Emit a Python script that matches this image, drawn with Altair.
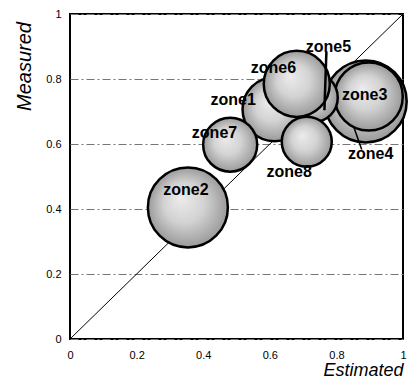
import altair as alt
import pandas as pd

# Bubble data (draw order: back to front)
zones = ["zone4", "zone3", "zone5", "zone1", "zone6", "zone7", "zone8", "zone2"]
estimated = [0.888, 0.897, 0.729, 0.614, 0.681, 0.481, 0.711, 0.354]
measured = [0.731, 0.746, 0.743, 0.707, 0.785, 0.598, 0.607, 0.405]
magnitude = [16.8, 11.6, 6.25, 10.2, 10.9, 7.3, 6.25, 16.0]

# Label anchors (data units)
label_names = ["zone1", "zone2", "zone3", "zone4", "zone5", "zone6", "zone7", "zone8"]
label_x = [0.490, 0.348, 0.885, 0.903, 0.776, 0.611, 0.434, 0.658]
label_y = [0.734, 0.459, 0.752, 0.568, 0.900, 0.834, 0.634, 0.514]

# Leader lines
leader_zone = ["zone5", "zone5", "zone4", "zone4"]
leader_x = [0.770, 0.764, 0.876, 0.853]
leader_y = [0.885, 0.704, 0.583, 0.650]

# Diagonal reference y = x
diag_x = [0.0, 1.0]
diag_y = [0.0, 1.0]

tick_values = [0, 0.2, 0.4, 0.6, 0.8, 1]

bubbles = pd.DataFrame({"zone": zones, "est": estimated, "meas": measured, "mag": magnitude,
                        "ord": list(range(len(zones)))})
labels = pd.DataFrame({"zone": label_names, "x": label_x, "y": label_y})
leaders = pd.DataFrame({"zone": leader_zone, "x": leader_x, "y": leader_y})
diag = pd.DataFrame({"x": diag_x, "y": diag_y})

xscale = alt.Scale(domain=[0, 1], nice=False, zero=False)
yscale = alt.Scale(domain=[0, 1], nice=False, zero=False)

xaxis = alt.Axis(values=tick_values, format="~g", grid=False, ticks=False, domain=False,
                 labelPadding=10, labelFontSize=11, labelFont="Liberation Sans", labelColor="black",
                 title="Estimated", titleFont="Liberation Sans", titleFontSize=18,
                 titleFontStyle="italic", titleFontWeight="normal", titleAnchor="end",
                 titlePadding=1, titleColor="black", labelFlush=False)
yaxis = alt.Axis(values=tick_values, format="~g", grid=True, gridDash=[8, 3, 2, 3],
                 gridColor="#777777", gridWidth=1, ticks=False, domain=False,
                 labelPadding=9, labelFontSize=11, labelFont="Liberation Sans", labelColor="black",
                 title="Measured", titleFont="Liberation Sans", titleFontSize=20,
                 titleFontStyle="italic", titleFontWeight="normal", titleAngle=270,
                 titleX=-46, titleY=52, titleAlign="center", titleBaseline="middle",
                 titleColor="black", labelFlush=False)

base_x = alt.X("x:Q", scale=xscale, axis=xaxis)
base_y = alt.Y("y:Q", scale=yscale, axis=yaxis)

diag_layer = alt.Chart(diag).mark_line(color="black", strokeWidth=1).encode(x=base_x, y=base_y)

gradient = {
    "gradient": "radial",
    "x1": 0.4, "y1": 0.38, "r1": 0.0,
    "x2": 0.5, "y2": 0.5, "r2": 0.5,
    "stops": [
        {"offset": 0.0, "color": "#ececec"},
        {"offset": 0.5, "color": "#d3d3d3"},
        {"offset": 1.0, "color": "#9a9a9a"},
    ],
}

bubble_layer = alt.Chart(bubbles).mark_circle(
    fill=gradient, stroke="black", strokeWidth=2.5, opacity=1, fillOpacity=1
).encode(
    x=alt.X("est:Q", scale=xscale, axis=xaxis),
    y=alt.Y("meas:Q", scale=yscale, axis=yaxis),
    size=alt.Size("mag:Q", scale=alt.Scale(domain=[0, 16], range=[0, 6400]), legend=None),
    order=alt.Order("ord:Q"),
)

leader_layer = alt.Chart(leaders).mark_line(color="black").encode(
    x=base_x, y=base_y, detail="zone:N",
    strokeWidth=alt.StrokeWidth("zone:N", scale=alt.Scale(domain=["zone4", "zone5"], range=[1.5, 2.5]),
                                legend=None),
)

label_layer = alt.Chart(labels).mark_text(
    font="Liberation Sans", fontSize=16, fontWeight="bold", color="black", align="center", baseline="middle"
).encode(x=base_x, y=base_y, text="zone:N")

chart = alt.layer(diag_layer, bubble_layer, leader_layer, label_layer).properties(
    width=333, height=325,
    autosize=alt.AutoSizeParams(type="none"),
    padding={"left": 62, "top": 6, "right": 5, "bottom": 40},
).configure_view(stroke="black", strokeWidth=2)

chart.save("out.html", embed_options={"renderer": "svg", "actions": False})
